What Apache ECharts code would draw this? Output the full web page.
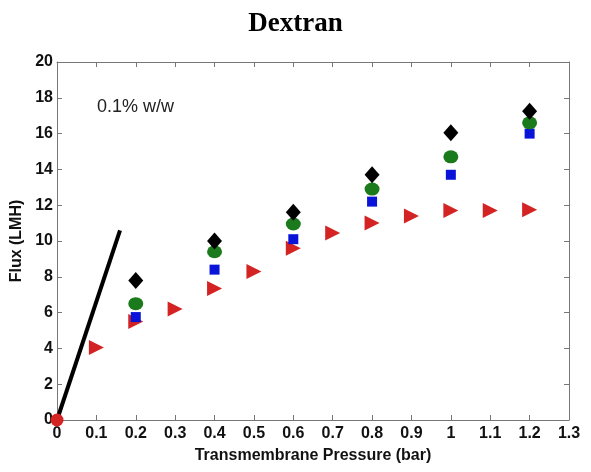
<!DOCTYPE html>
<html>
<head>
<meta charset="utf-8">
<title>Dextran</title>
<script src="https://cdn.jsdelivr.net/npm/echarts@6/dist/echarts.min.js"></script>
<style>
html,body{margin:0;padding:0;background:#fff;}
#chart{width:591px;height:472px;}
</style>
</head>
<body>
<div id="chart"></div>
<script>
// pressures (bar)
var tmpFull = [0, 0.1, 0.2, 0.3, 0.4, 0.5, 0.6, 0.7, 0.8, 0.9, 1.0, 1.1, 1.2];
var tmpStep = [0.2, 0.4, 0.6, 0.8, 1.0, 1.2];

// flux values (LMH)
var fluxDiamond = [7.8, 10.0, 11.6, 13.7, 16.05, 17.25];
var fluxCircle = [6.5, 9.4, 10.95, 12.9, 14.7, 16.6];
var fluxSquare = [5.75, 8.4, 10.1, 12.2, 13.7, 16.0];
var fluxTriangle = [0, 4.05, 5.5, 6.2, 7.35, 8.3, 9.6, 10.45, 11.0, 11.4, 11.7, 11.7, 11.75];

// pure water line
var lineX = [0, 0.16];
var lineY = [0, 10.6];

function pairs(xs, ys) {
  var out = [];
  for (var i = 0; i < xs.length; i++) out.push([xs[i], ys[i]]);
  return out;
}

var triData = pairs(tmpFull, fluxTriangle);
var originPt = triData.shift(); // first point drawn as round dot

var lblFont = {color: '#111', fontFamily: 'Liberation Sans, Arial', fontWeight: 'bold', fontSize: 16};
var frameLine = {show: true, onZero: false, lineStyle: {color: '#777', width: 1}};
var frameTick = {show: true, inside: true, length: 5, lineStyle: {color: '#777'}};

option = {
  animation: false,
  title: {
    text: 'Dextran',
    left: 'center',
    top: 6,
    textStyle: {fontFamily: 'Liberation Serif, Times New Roman', fontWeight: 'bold', fontSize: 27, color: '#000'}
  },
  grid: {left: 57, right: 22, top: 62, bottom: 52},
  graphic: [{
    type: 'text', left: 97, top: 98,
    style: {text: '0.1% w/w', fontFamily: 'Liberation Sans, Arial', fontSize: 18, fill: '#222'}
  }],
  xAxis: [{
    type: 'value', min: 0, max: 1.3, interval: 0.1,
    name: 'Transmembrane Pressure (bar)', nameLocation: 'middle', nameGap: 28,
    nameTextStyle: {fontFamily: 'Liberation Sans, Arial', fontWeight: 'bold', fontSize: 16, color: '#111'},
    axisLine: frameLine, axisTick: frameTick,
    axisLabel: Object.assign({margin: 6}, lblFont),
    splitLine: {show: false}
  }, {
    type: 'value', position: 'top', min: 0, max: 1.3, interval: 0.1,
    axisLine: frameLine, axisTick: frameTick,
    axisLabel: {show: false}, splitLine: {show: false}
  }],
  yAxis: [{
    type: 'value', min: 0, max: 20, interval: 2,
    name: 'Flux (LMH)', nameLocation: 'middle', nameGap: 29,
    nameTextStyle: {fontFamily: 'Liberation Sans, Arial', fontWeight: 'bold', fontSize: 16, color: '#111'},
    axisLine: frameLine, axisTick: frameTick,
    axisLabel: Object.assign({margin: 4}, lblFont),
    splitLine: {show: false}
  }, {
    type: 'value', position: 'right', min: 0, max: 20, interval: 2,
    axisLine: frameLine, axisTick: frameTick,
    axisLabel: {show: false}, splitLine: {show: false}
  }],
  series: [{
    type: 'line', data: pairs(lineX, lineY), symbol: 'none',
    lineStyle: {color: '#000', width: 4}, z: 3
  }, {
    type: 'scatter', data: triData, symbol: 'triangle', symbolRotate: -90, symbolSize: [15, 15],
    itemStyle: {color: '#d42323', opacity: 1}, z: 4
  }, {
    type: 'scatter', data: [originPt], symbol: 'circle', symbolSize: 13,
    itemStyle: {color: '#d42323', opacity: 1}, z: 5
  }, {
    type: 'scatter', data: pairs(tmpStep, fluxSquare), symbol: 'rect', symbolSize: 10,
    itemStyle: {color: '#0a14d8', opacity: 1}, z: 4
  }, {
    type: 'scatter', data: pairs(tmpStep, fluxCircle), symbol: 'circle', symbolSize: [15, 13],
    itemStyle: {color: '#1b7a1b', opacity: 1}, z: 5
  }, {
    type: 'scatter', data: pairs(tmpStep, fluxDiamond), symbol: 'diamond', symbolSize: [15, 17],
    itemStyle: {color: '#000', opacity: 1}, z: 6
  }]
};

var myChart = echarts.init(document.getElementById('chart'));
myChart.setOption(option);
</script>
</body>
</html>
